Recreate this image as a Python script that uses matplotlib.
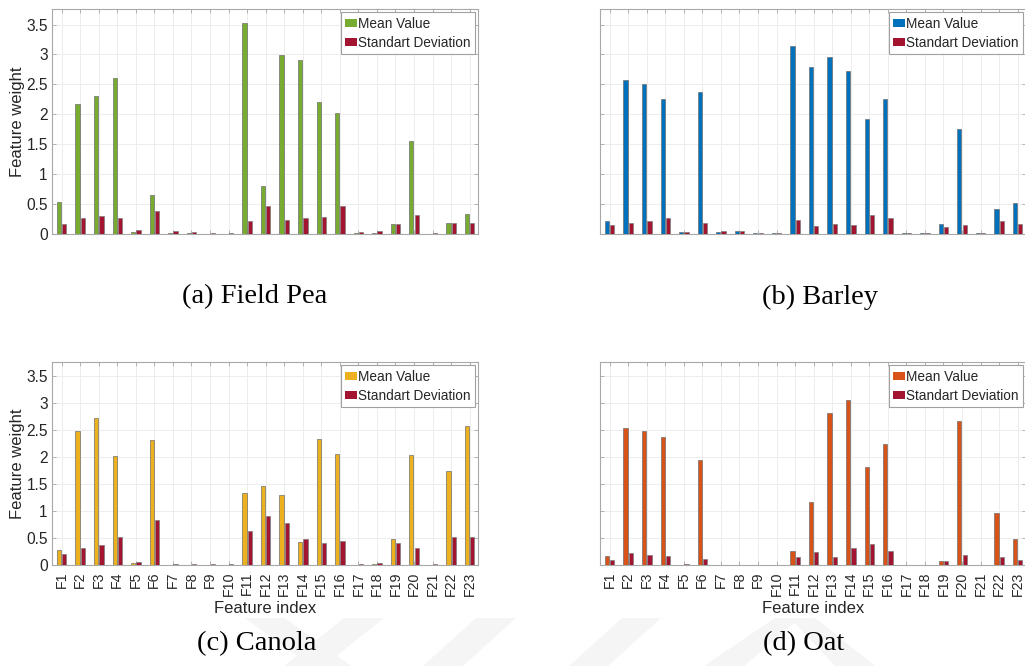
import numpy as np
import matplotlib
matplotlib.use("Agg")
import matplotlib.pyplot as plt
from matplotlib.patches import Polygon

plt.rcParams["font.family"] = ["Liberation Sans", "DejaVu Sans"]

features = [f"F{i}" for i in range(1, 24)]
series_labels = ["Mean Value", "Standart Deviation"]
y_ticks = [0, 0.5, 1, 1.5, 2, 2.5, 3, 3.5]
y_tick_labels = ["0", "0.5", "1", "1.5", "2", "2.5", "3", "3.5"]

pea_mean = [0.54, 2.17, 2.30, 2.60, 0.03, 0.66, 0.02, 0.02, 0.005, 0.005, 3.53, 0.80,
            2.99, 2.91, 2.21, 2.03, 0.02, 0.02, 0.16, 1.56, 0.005, 0.18, 0.34]
pea_sd = [0.17, 0.26, 0.30, 0.27, 0.06, 0.39, 0.045, 0.035, 0.02, 0.02, 0.22, 0.46,
          0.24, 0.26, 0.28, 0.47, 0.04, 0.055, 0.17, 0.32, 0.02, 0.18, 0.18]

barley_mean = [0.21, 2.57, 2.51, 2.25, 0.04, 2.38, 0.04, 0.045, 0.01, 0.01, 3.15, 2.79,
               2.96, 2.73, 1.92, 2.25, 0.01, 0.01, 0.16, 1.76, 0.01, 0.41, 0.51]
barley_sd = [0.15, 0.19, 0.22, 0.27, 0.04, 0.18, 0.05, 0.05, 0.015, 0.015, 0.24, 0.14,
             0.16, 0.15, 0.31, 0.27, 0.01, 0.015, 0.12, 0.15, 0.01, 0.22, 0.17]

canola_mean = [0.28, 2.49, 2.73, 2.01, 0.04, 2.31, 0.005, 0.005, 0.005, 0.002, 1.33, 1.47,
               1.30, 0.43, 2.33, 2.06, 0.005, 0.01, 0.48, 2.04, 0.005, 1.75, 2.57]
canola_sd = [0.20, 0.31, 0.37, 0.52, 0.06, 0.84, 0.025, 0.025, 0.02, 0.012, 0.63, 0.91,
             0.77, 0.49, 0.41, 0.45, 0.025, 0.04, 0.41, 0.32, 0.02, 0.52, 0.52]

oat_mean = [0.17, 2.54, 2.49, 2.38, 0.005, 1.95, 0.002, 0.002, 0.0, 0.0, 0.26, 1.16,
            2.82, 3.05, 1.82, 2.25, 0.0, 0.0, 0.08, 2.67, 0.0, 0.96, 0.48]
oat_sd = [0.10, 0.23, 0.19, 0.17, 0.01, 0.12, 0.005, 0.005, 0.0, 0.0, 0.14, 0.24,
          0.14, 0.31, 0.38, 0.26, 0.0, 0.0, 0.07, 0.19, 0.0, 0.14, 0.10]

W, H = 1025, 666
fig = plt.figure(figsize=(W / 100, H / 100), dpi=100)

# faint background watermark strokes along the bottom edge
wm_color = "#f5f5f5"
wm_shapes = [
    [(245, 618), (285, 618), (351, 666), (311, 666)],
    [(384, 618), (344, 618), (284, 666), (324, 666)],
    [(476, 618), (516, 618), (463, 666), (423, 666)],
    [(622, 618), (661, 618), (608, 666), (569, 666)],
    [(775, 618), (800, 618), (744, 666), (704, 666)],
    [(790, 618), (815, 618), (875, 666), (835, 666)],
]
for pts in wm_shapes:
    fig.patches.append(Polygon([(x / W, 1 - y / H) for x, y in pts], closed=True,
                               transform=fig.transFigure, facecolor=wm_color,
                               edgecolor="none", zorder=0))

panels = [
    (pea_mean, pea_sd, "#77AC30", "(a) Field Pea", (52, 9, 478, 234), False, True, (255, 297)),
    (barley_mean, barley_sd, "#0072BD", "(b) Barley", (600, 9, 1026, 234), False, False, (820, 297)),
    (canola_mean, canola_sd, "#EDB120", "(c) Canola", (52, 362, 478, 565), True, True, (257, 644)),
    (oat_mean, oat_sd, "#D95319", "(d) Oat", (600, 362, 1026, 565), True, False, (804, 644)),
]
sd_color = "#A2142F"
frame_color = "#a8a8a8"
text_color = "#262626"

x = np.arange(1, len(features) + 1)
offset = 0.1429
width = 0.2286

for mean, sd, color, caption, (x0, y0, x1, y1), show_x, show_y, (cx, cy) in panels:
    ax = fig.add_axes([x0 / W, 1 - y1 / H, (x1 - x0) / W, (y1 - y0) / H])
    ax.set_axisbelow(True)
    ax.bar(x - offset, mean, width, color=color, edgecolor="#6f6f6f", linewidth=0.5,
           label=series_labels[0], zorder=3)
    ax.bar(x + offset, sd, width, color=sd_color, edgecolor="#7d7d7d", linewidth=0.5,
           label=series_labels[1], zorder=3)
    ax.set_xlim(0.48, 23.45)
    ax.set_ylim(0, 3.76)
    ax.set_xticks(x)
    ax.set_yticks(y_ticks)
    ax.grid(True, color="#ededed", linewidth=0.7)
    for s in ax.spines.values():
        s.set_color(frame_color)
        s.set_linewidth(0.8)
    ax.tick_params(axis="both", direction="in", length=3, width=0.6, color=frame_color,
                   top=True, right=True, labelcolor=text_color)
    if show_x:
        ax.set_xticklabels(features, rotation=90, fontsize=10.2)
        ax.tick_params(axis="x", pad=4.5)
        ax.set_xlabel("Feature index", fontsize=12, color=text_color)
        ax.xaxis.set_label_coords(0.5, -0.212)
        ax.xaxis.label.set_va("center")
    else:
        ax.set_xticklabels([])
    if show_y:
        ax.set_yticklabels(y_tick_labels, fontsize=11.2)
        ax.tick_params(axis="y", pad=3)
        ax.set_ylabel("Feature weight", fontsize=12, color=text_color)
        ax.yaxis.set_label_coords(-0.082, 0.5)
        ax.yaxis.label.set_va("center")
    else:
        ax.set_yticklabels([])
    leg = ax.legend(loc="upper right", fontsize=9.8, frameon=True, fancybox=False,
                    edgecolor="#a0a0a0", framealpha=1, handlelength=0.85, handleheight=0.55,
                    handletextpad=0.05, borderpad=0.32, labelspacing=0.38, borderaxespad=0.25)
    leg.get_frame().set_linewidth(0.8)
    for t in leg.get_texts():
        t.set_color(text_color)
    for h in leg.legend_handles:
        h.set_edgecolor("none")
    fig.text(cx / W, 1 - cy / H, caption, ha="center", va="center",
             family="Liberation Serif", fontsize=20.5, color="black")

fig.savefig("out.png", dpi=100)
